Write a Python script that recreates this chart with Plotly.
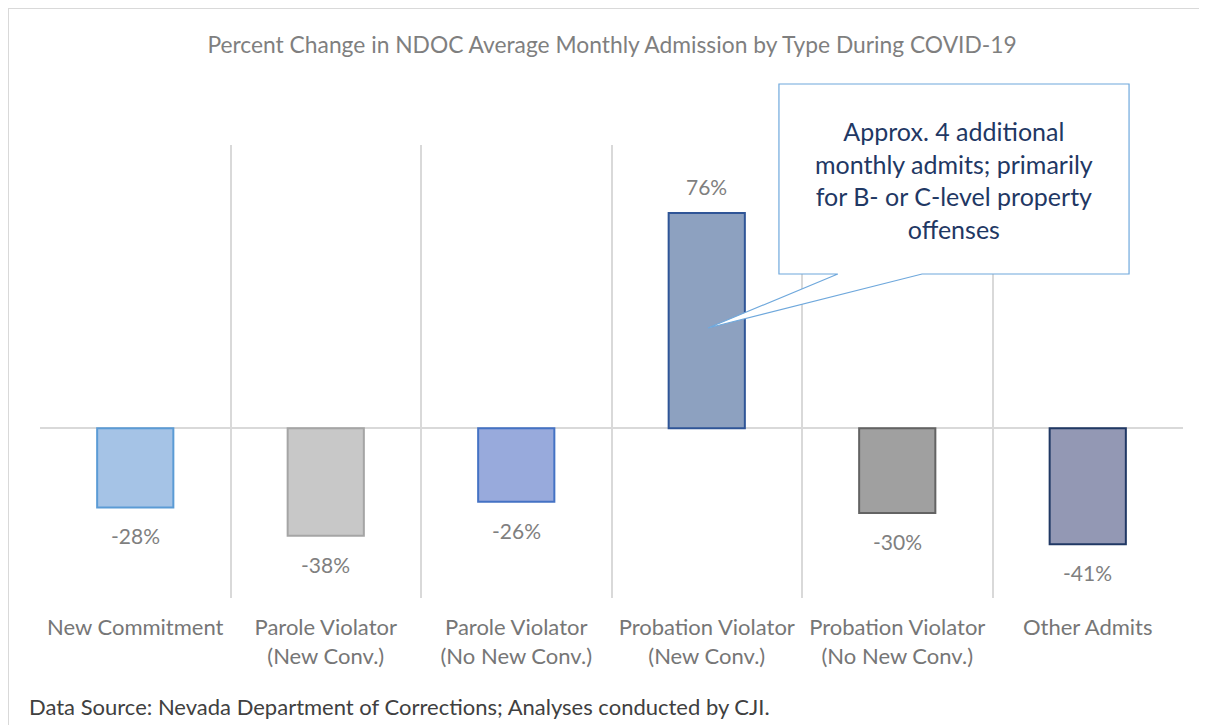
import plotly.graph_objects as go

categories = ["New Commitment", "Parole Violator<br>(New Conv.)", "Parole Violator<br>(No New Conv.)",
              "Probation Violator<br>(New Conv.)", "Probation Violator<br>(No New Conv.)", "Other Admits"]
pct_change = [-28, -38, -26, 76, -30, -41]
labels = ["-28%", "-38%", "-26%", "76%", "-30%", "-41%"]

fill_colors = ["#a5c3e6", "#c8c8c8", "#98aadc", "#8da1c0", "#a0a0a0", "#9398b4"]
line_colors = ["#5b9bd5", "#a5a5a5", "#4472c4", "#2f5597", "#636363", "#203864"]

FONT = "Lato"
GRID = "#d9d9d9"

fig = go.Figure()
fig.add_trace(go.Bar(
    x=categories,
    y=pct_change,
    marker=dict(color=fill_colors, line=dict(color=line_colors, width=2)),
    width=0.4,
    hoverinfo="skip",
))

# data labels
for cat, val, lab in zip(categories, pct_change, labels):
    fig.add_annotation(
        x=cat, y=val, text=lab, showarrow=False,
        yanchor="bottom" if val > 0 else "top",
        yshift=12 if val > 0 else -14,
        font=dict(family=FONT, size=21, color="#7f7f7f"),
    )

# callout box with pointer (paper coordinates)
callout = "M 0.6465 1.1347 L 0.9528 1.1347 L 0.9528 0.7152 L 0.7717 0.7152 L 0.5844 0.596 L 0.698 0.7152 L 0.6465 0.7152 Z"
fig.add_shape(type="path", path=callout, xref="paper", yref="paper",
              line=dict(color="#6fa8dc", width=1.2), fillcolor="white", layer="above")
fig.add_annotation(
    x=0.7997, y=0.9227, xref="paper", yref="paper", showarrow=False,
    xanchor="center", yanchor="middle",
    text="Approx. 4 additional<br>monthly admits; primarily<br>for B- or C-level property<br>offenses",
    font=dict(family=FONT, size=25, color="#1f3864"), align="center",
)

# outer frame (left and top edges)
fig.add_shape(type="line", xref="paper", yref="paper", x0=-0.028, x1=-0.028, y0=-0.35, y1=1.3024,
              line=dict(color=GRID, width=2))
fig.add_shape(type="line", xref="paper", yref="paper", x0=-0.028, x1=1.02, y0=1.3024, y1=1.3024,
              line=dict(color=GRID, width=2))

# footnote
fig.add_annotation(
    x=-0.0114, y=-0.2406, xref="paper", yref="paper", showarrow=False,
    xanchor="left", yanchor="middle",
    text="Data Source: Nevada Department of Corrections; Analyses conducted by CJI.",
    font=dict(family=FONT, size=22, color="#404040"),
)

fig.update_layout(
    width=1199, height=717,
    margin=dict(l=32, r=24, t=137, b=127),
    paper_bgcolor="white", plot_bgcolor="white",
    showlegend=False,
    title=dict(
        text="Percent Change in NDOC Average Monthly Admission by Type During COVID-19",
        x=0.5038, xanchor="center", y=0.9484, yanchor="middle",
        font=dict(family=FONT, size=22.8, color="#7f7f7f"),
    ),
    xaxis=dict(
        tickson="boundaries", showgrid=True, gridcolor=GRID, gridwidth=2,
        ticks="", showline=False, zeroline=False, ticklabelstandoff=14,
        tickfont=dict(family=FONT, size=22, color="#767676"),
        range=[-0.5, 5.5],
    ),
    yaxis=dict(
        range=[-60, 100], showgrid=False, showticklabels=False,
        zeroline=True, zerolinecolor=GRID, zerolinewidth=2,
    ),
)

fig.write_html("out.html", config={"displayModeBar": False})
